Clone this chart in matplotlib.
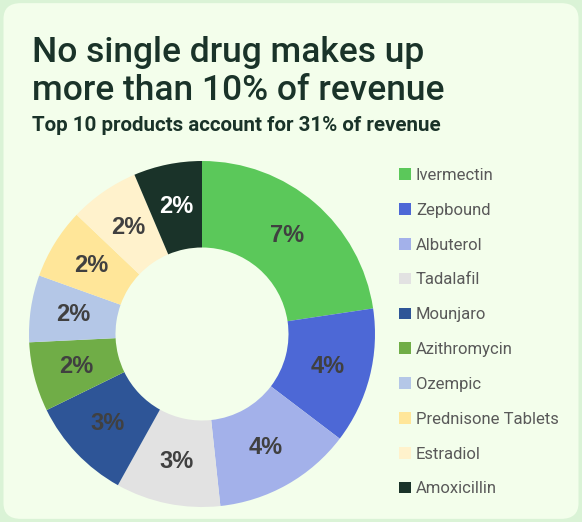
import matplotlib
matplotlib.use("Agg")
import matplotlib.pyplot as plt
from matplotlib.patches import FancyBboxPatch, Patch

plt.rcParams.update({"font.family": ["Roboto", "DejaVu Sans"]})

products = ["Ivermectin", "Zepbound", "Albuterol", "Tadalafil", "Mounjaro",
            "Azithromycin", "Ozempic", "Prednisone Tablets", "Estradiol", "Amoxicillin"]
share = [7.02, 3.94, 4.02, 3.03, 3.00, 2.01, 1.94, 2.05, 2.02, 1.98]
colors = ["#5BC85A", "#4D68D6", "#A3B1EA", "#E2E2E2", "#2E5597",
          "#70AD47", "#B4C7E7", "#FFE699", "#FFF2CC", "#1A3329"]
label_colors = ["#404040"] * 9 + ["white"]

TITLE = "No single drug makes up\nmore than 10% of revenue"
SUBTITLE = "Top 10 products account for 31% of revenue"
DARK = "#1A3329"
BG = "#F3FEEB"

fig = plt.figure(figsize=(5.82, 5.22), dpi=100, facecolor="#DAF3D6")
card = FancyBboxPatch((0.006, 0.006), 0.988, 0.988, boxstyle="round,pad=0,rounding_size=0.03",
                      transform=fig.transFigure, facecolor=BG, edgecolor="none", zorder=-10)
fig.patches.append(card)

fig.text(0.055, 1 - 100 / 522, TITLE, fontsize=25.5, color=DARK, fontweight="medium",
         va="baseline", ha="left", linespacing=1.18)
fig.text(0.055, 1 - 131 / 522, SUBTITLE, fontsize=14.8, color=DARK, fontweight="bold",
         va="baseline", ha="left")

# donut: centre ~ (202, 334) px, radius ~173 px
R = 173
ax = fig.add_axes([(202 - R) / 582, 1 - (334 + R) / 522, 2 * R / 582, 2 * R / 522])
ax.set_facecolor("none")
wedges, texts, autotexts = ax.pie(share, colors=colors, startangle=90, counterclock=False,
                                  wedgeprops=dict(width=0.5, edgecolor="none"),
                                  autopct=lambda p: f"{round(p * sum(share) / 100):.0f}%",
                                  pctdistance=0.75)
for t, c in zip(autotexts, label_colors):
    t.set_color(c)
    t.set_fontsize(17)
    t.set_fontweight("bold")
    t.set_family(["Liberation Sans", "DejaVu Sans"])
ax.set_xlim(-1, 1)
ax.set_ylim(-1, 1)
ax.set_aspect("equal")

handles = [Patch(facecolor=c, edgecolor="none") for c in colors]
fig.legend(handles, products, loc="upper left", bbox_to_anchor=(0.66, 0.707),
           frameon=False, fontsize=12, labelcolor="#595959",
           handlelength=0.7, handleheight=0.7, handletextpad=0.3, labelspacing=1.19)

fig.savefig("out.png", dpi=100, facecolor=fig.get_facecolor())
